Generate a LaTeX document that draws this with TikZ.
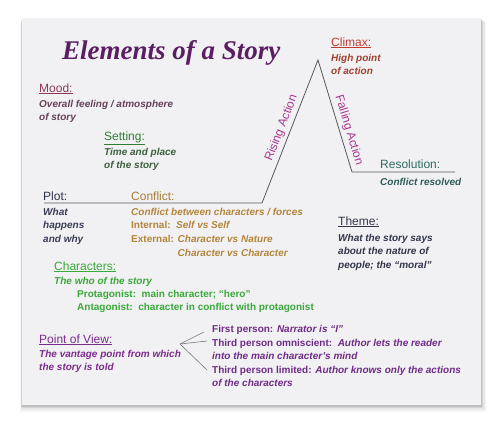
\documentclass[tikz,border=0pt]{standalone}
\usepackage{fontspec}
\setmainfont{Liberation Sans}
\newfontfamily\titlefont{Liberation Serif}
\usetikzlibrary{positioning}
\usetikzlibrary{calc}

\definecolor{cardfill}{HTML}{F1F1F3}
\definecolor{titlepurple}{HTML}{5B1E63}
\definecolor{moodred}{HTML}{8C3A55}
\definecolor{moodtext}{HTML}{654257}
\definecolor{settinggreen}{HTML}{2F7D32}
\definecolor{settingtext}{HTML}{3E5E3E}
\definecolor{plotblue}{HTML}{2F3248}
\definecolor{plottext}{HTML}{3A3D55}
\definecolor{conflictgold}{HTML}{A57E35}
\definecolor{conflicttext}{HTML}{B3853A}
\definecolor{climaxred}{HTML}{C23B32}
\definecolor{climaxtext}{HTML}{A0412E}
\definecolor{actionpurple}{HTML}{A8378F}
\definecolor{resolteal}{HTML}{2E6A62}
\definecolor{resoltext}{HTML}{2F5A5A}
\definecolor{themegray}{HTML}{33364A}
\definecolor{chargreen}{HTML}{3AA83A}
\definecolor{povpurple}{HTML}{7B2C8C}
\definecolor{povtext}{HTML}{6E2C86}
\definecolor{linegray}{HTML}{55585F}

\begin{document}
\begin{tikzpicture}[x=1pt, y=-1pt,
	heading/.style={anchor=base west, inner sep=0pt, font=\fontsize{12}{14}\selectfont},
	blurb/.style={anchor=base west, inner sep=0pt, align=left, font=\fontsize{10}{13.7}\selectfont\bfseries\itshape},
	plainblurb/.style={blurb, font=\fontsize{10}{13.7}\selectfont\bfseries},
	plotline/.style={draw=linegray, line width=0.8pt},
	fanline/.style={draw=linegray!80, line width=0.6pt},
	actionlabel/.style={font=\fontsize{12}{14}\selectfont, text=actionpurple, sloped}]
		\useasboundingbox (0,0) rectangle (500,431);
		
		% card with a soft shadow
		\foreach \s/\o in {7/0.04, 5/0.06, 3/0.08, 1.5/0.1}
			\fill [black, opacity=\o] (22-\s*0.3,18+\s*0.5) rectangle (481+\s*0.7,405+\s);
		\fill [cardfill] (22,18) rectangle (481,405);
		
		\node at (62,59) [anchor=base west, inner sep=0pt, font=\titlefont\fontsize{27}{30}\selectfont\bfseries\itshape, text=titlepurple] (title) {Elements of a Story};
		
		% blurbs sit on the baseline of their last line
		\node at (39,92) [heading, text=moodred] (mood) {\underline{Mood:}};
		\node at (39,120.7) [blurb, text=moodtext] (moodtxt) {Overall feeling / atmosphere\\of story};
		
		\node at (104,140) [heading, text=settinggreen] (setting) {\underline{Setting:}};
		\node at (104,168.7) [blurb, text=settingtext] (settingtxt) {Time and place\\of the story};
		
		\node at (43,200) [heading, text=plotblue] (plot) {Plot:};
		\node at (43,242.4) [blurb, text=plottext] (plottxt) {What\\happens\\and why};
		
		\node at (131,200) [heading, text=conflictgold] (conflict) {Conflict:};
		\node at (131,256.1) [plainblurb, text=conflicttext] (conflicttxt) {\textit{Conflict between characters / forces}\\Internal:\ \ \textit{Self vs Self}\\External: \textit{Character vs Nature}\\\hphantom{External: }\textit{Character vs Character}};
		
		\node at (331,46) [heading, text=climaxred] (climax) {\underline{Climax:}};
		\node at (331,74.7) [blurb, text=climaxtext] (climaxtxt) {High point\\of action};
		
		\node at (380,168) [heading, text=resolteal] (resolution) {Resolution:};
		\node at (380,185) [blurb, text=resoltext] (resolutiontxt) {Conflict resolved};
		
		\node at (338,225) [heading, text=themegray] (theme) {\underline{Theme:}};
		\node at (338,268.4) [blurb, text=themegray] (themetxt) {What the story says\\about the nature of\\people; the “moral”};
		
		\node at (54,270) [heading, text=chargreen] (characters) {\underline{Characters:}};
		\node at (54,284) [blurb, text=chargreen] (characterstxt) {The who of the story};
		\node at (77,310.7) [plainblurb, text=chargreen] (roles) {Protagonist:\ \ main character; “hero”\\Antagonist:\ \ character in conflict with protagonist};
		
		\node at (39,343) [heading, text=povpurple] (pov) {\underline{Point of View:}};
		\node at (39,370.7) [blurb, text=povpurple] (povtxt) {The vantage point from which\\the story is told};
		
		\node at (212,332) [plainblurb, text=povtext] (firstp) {First person: \textit{Narrator is “I”}};
		\node at (212,359.7) [plainblurb, text=povtext] (omni) {Third person omniscient:\ \ \textit{Author lets the reader}\\\textit{into the main character’s mind}};
		\node at (212,386.7) [plainblurb, text=povtext] (limited) {Third person limited: \textit{Author knows only the actions}\\\textit{of the characters}};
		
		% plot line
		\coordinate (plotstart) at (44,203);
		\coordinate (risebase) at (262,203);
		\coordinate (apex) at (318,60);
		\coordinate (fallbase) at (352,172);
		\coordinate (resend) at (455,172);
		\draw [plotline] (plotstart) -- (risebase) -- (apex) -- (fallbase) -- (resend);
		\path (risebase) -- (apex) node [actionlabel, pos=0.5, above] (rising) {Rising Action};
		\path (apex) -- (fallbase) node [actionlabel, pos=0.65, above] (falling) {Falling Action};
		
		% point of view fan
		\coordinate (fan) at (180,344);
		\draw [fanline] (fan) -- ($(firstp.base west)+(-8,0)$);
		\draw [fanline] (fan) -- ($(omni.base west)+(-5,-18.7)$);
		\draw [fanline] (fan) -- ($(limited.base west)+(-5,-16.7)$);
		
\end{tikzpicture}
\end{document}
